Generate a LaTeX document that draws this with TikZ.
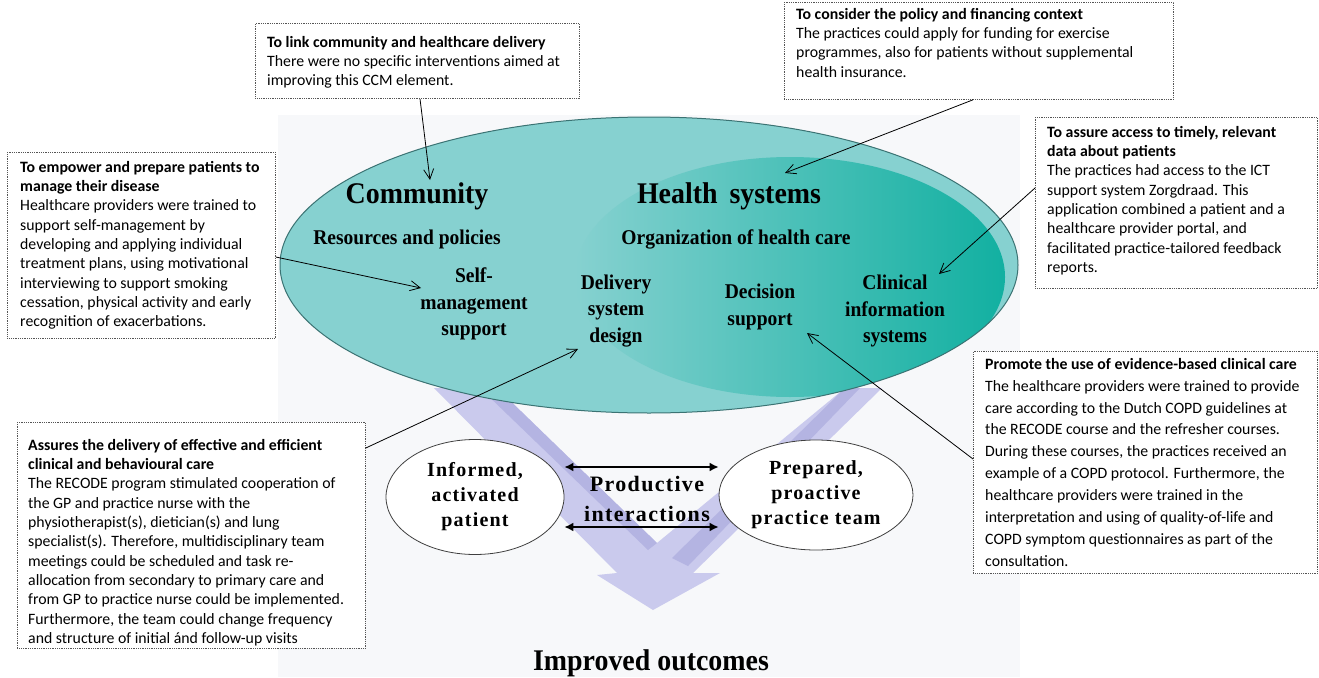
\documentclass[tikz,border=0pt]{standalone}
\usepackage{fontspec}
\setmainfont{Carlito}
\newfontfamily\figfont{Liberation Serif}[FakeStretch=0.93]
\newfontfamily\figsp{Liberation Serif}[LetterSpace=6]
\usetikzlibrary{arrows.meta,shapes.geometric}
\definecolor{bgc}{HTML}{F7F8FA}
\definecolor{teal1}{HTML}{86D1D0}
\definecolor{teal2}{HTML}{12B0A1}
\definecolor{tealline}{HTML}{3B7373}
\definecolor{lav}{HTML}{CACAED}
\definecolor{lavd}{HTML}{B4B4E2}
\definecolor{frame}{HTML}{555555}
\tikzset{
  boxframe/.style={draw=frame, densely dotted, line width=0.8pt, fill=white, inner sep=0pt, anchor=north west},
  boxtext/.style={inner sep=0pt, anchor=north west, align=left, font=\fontsize{15.8pt}{19.3pt}\selectfont},
  boxtextw/.style={inner sep=0pt, anchor=north west, align=left, font=\fontsize{15.8pt}{21.9pt}\selectfont},
  big/.style={font=\figfont\bfseries\fontsize{30pt}{34pt}\selectfont, inner sep=0pt, anchor=base},
  mid/.style={font=\figfont\bfseries\fontsize{21pt}{24pt}\selectfont, inner sep=0pt, anchor=base},
  comp/.style={font=\figfont\bfseries\fontsize{21pt}{26.5pt}\selectfont, inner sep=0pt, align=center},
  oval/.style={ellipse, draw=black!75, line width=0.8pt, fill=white, inner sep=0pt, align=center,
    font=\figsp\bfseries\fontsize{20pt}{25pt}\selectfont},
  callout/.style={line width=0.8pt, -{Straight Barb[length=10pt,width=10pt]}},
  dbl/.style={line width=1.6pt, {Latex[length=9pt,width=9pt]}-{Latex[length=9pt,width=9pt]}},
}
\begin{document}
\begin{tikzpicture}[x=1pt,y=-1pt]
\useasboundingbox (0,0) rectangle (1319,677);
\fill[white] (0,0) rectangle (1319,677);
% figure background
\fill[bgc] (278,115) rectangle (1020,677);

% big V arrow
\fill[lav] (434,388) -- (497,388) -- (657,543) -- (845,388) -- (882,388) -- (693,573)
   -- (720,573) -- (653,610) -- (597,575) -- (617,573) -- cycle;
\fill[lavd] (480,388) -- (497,388) -- (657,543) -- (648,550) -- cycle;
\fill[lavd] (845,388) -- (860,388) -- (688,566) -- (672,558) -- cycle;

% CCM ellipse
\begin{scope}
  \clip (649,265) ellipse [x radius=369pt, y radius=148pt];
  \fill[teal1] (649,265) ellipse [x radius=369pt, y radius=148pt];
  \shade[left color=teal1, right color=teal2] (790,277) ellipse [x radius=215pt, y radius=120pt];
\end{scope}
\draw[tealline, line width=1pt] (649,265) ellipse [x radius=369pt, y radius=148pt];

\node[big] (comm) at (417,203) {Community};
\node[big] (hs) at (729,203) {Health\, systems};
\node[mid] (rp) at (407,244) {Resources and policies};
\node[mid] (org) at (736,244) {Organization of health care};
\node[comp] (sms) at (474,304) {Self-\\management\\support};
\node[comp] (dsd) at (616,311) {Delivery\\system\\design};
\node[comp] (ds) at (760,307) {Decision\\support};
\node[comp] (cis) at (895,311) {Clinical\\information\\systems};

% lower part
\node[oval, minimum width=178pt, minimum height=115pt] (inf) at (475,497) {Informed,\\activated\\patient};
\node[oval, minimum width=194pt, minimum height=110pt] (prep) at (816,495) {Prepared,\\proactive\\practice team};
\node[font=\figsp\bfseries\fontsize{22pt}{30pt}\selectfont, align=center, inner sep=0pt] (pi) at (647,499) {Productive\\interactions};
\draw[dbl] (inf.east |- 0,467) -- (prep.west |- 0,467);
\draw[dbl] (inf.east |- 0,527) -- (prep.west |- 0,527);
\node[font=\figfont\bfseries\fontsize{30pt}{34pt}\selectfont, inner sep=0pt, anchor=base] (io) at (651,670) {Improved outcomes};

% text boxes
\node[boxframe, minimum width=324pt, minimum height=75pt] (b1) at (255,23) {};
\node[boxtext] (b1t) at ([xshift=12pt,yshift=-13pt]b1.north west) {\textbf{To link community and healthcare delivery}\\There were no specific interventions aimed at\\improving this CCM element.};

\node[boxframe, minimum width=389pt, minimum height=97pt] (b2) at (784,2) {};
\node[boxtext] (b2t) at ([xshift=12pt,yshift=-6pt]b2.north west) {\textbf{To consider the policy and financing context}\\The practices could apply for funding for exercise\\programmes, also for patients without supplemental\\health insurance.};

\node[boxframe, minimum width=268pt, minimum height=186pt] (b3) at (7,152) {};
\node[boxtext] (b3t) at ([xshift=13pt,yshift=-9pt]b3.north west) {\textbf{To empower and prepare patients to}\\\textbf{manage their disease}\\Healthcare providers were trained to\\support self-management by\\developing and applying individual\\treatment plans, using motivational\\interviewing to support smoking\\cessation, physical activity and early\\recognition of exacerbations.};

\node[boxframe, minimum width=282pt, minimum height=171pt] (b4) at (1035,117) {};
\node[boxtext] (b4t) at ([xshift=12pt,yshift=-9pt]b4.north west) {\textbf{To assure access to timely, relevant}\\\textbf{data about patients}\\The practices had access to the ICT\\support system Zorgdraad. This\\application combined a patient and a\\healthcare provider portal, and\\facilitated practice-tailored feedback\\reports.};

\node[boxframe, minimum width=344pt, minimum height=222pt] (b5) at (973,351) {};
\node[boxtextw] (b5t) at ([xshift=12pt,yshift=-7pt]b5.north west) {\textbf{Promote the use of evidence-based clinical care}\\The healthcare providers were trained to provide\\care according to the Dutch COPD guidelines at\\the RECODE course and the refresher courses.\\During these courses, the practices received an\\example of a COPD protocol. Furthermore, the\\healthcare providers were trained in the\\interpretation and using of quality-of-life and\\COPD symptom questionnaires as part of the\\consultation.};

\node[boxframe, minimum width=348pt, minimum height=226pt] (b6) at (17,422) {};
\node[boxtext] (b6t) at ([xshift=11pt,yshift=-17pt]b6.north west) {\textbf{Assures the delivery of effective and efficient}\\\textbf{clinical and behavioural care}\\The RECODE program stimulated cooperation of\\the GP and practice nurse with the\\physiotherapist(s), dietician(s) and lung\\specialist(s). Therefore, multidisciplinary team\\meetings could be scheduled and task re-\\allocation from secondary to primary care and\\from GP to practice nurse could be implemented.\\Furthermore, the team could change frequency\\and structure of initial ánd follow-up visits};

% callout arrow targets
\coordinate (t1) at (430,180);
\coordinate (t2) at (785,173);
\coordinate (t3) at (421,288);
\coordinate (t4) at (939,274);
\coordinate (t5) at (807,333);
\coordinate (t6) at (578,349);

\draw[callout] (420,0 |- b1.south) -- (t1);
\draw[callout] (973,0 |- b2.south) -- (t2);
\draw[callout] (b3.east |- 0,257) -- (t3);
\draw[callout] (b4.west |- 0,188) -- (t4);
\draw[callout] (b5.west |- 0,459) -- (t5);
\draw[callout] (b6.east |- 0,448) -- (t6);
\end{tikzpicture}
\end{document}
